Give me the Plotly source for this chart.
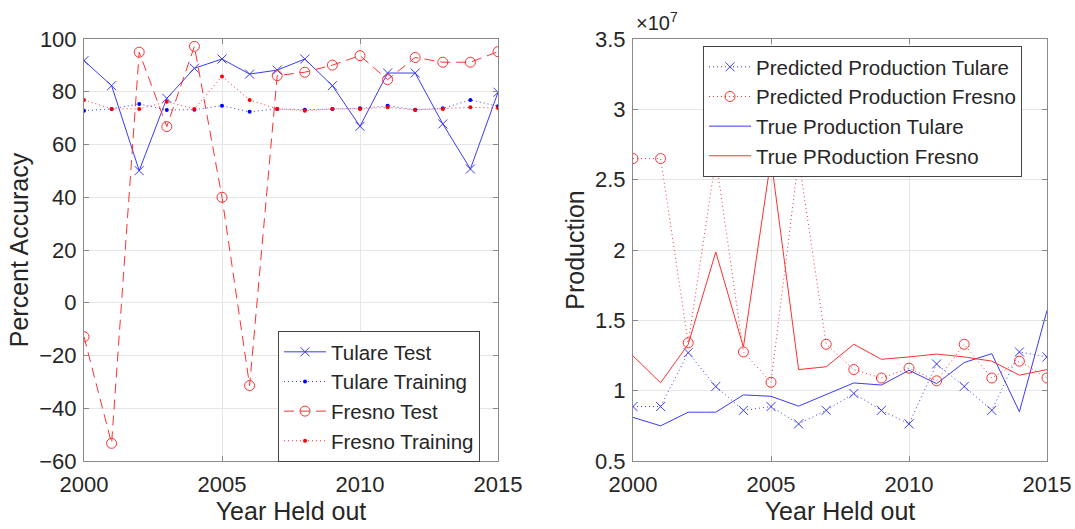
import plotly.graph_objects as go

years = list(range(2000, 2016))

# Left panel: percent accuracy
tulare_test = [91.8, 82.3, 50.1, 77.5, 88.9, 92.4, 86.7, 88.2, 92.4, 82.3, 66.9, 87.1, 87.1, 67.8, 50.7, 79.8]
tulare_train = [72.8, 73.5, 75.4, 73.1, 73.2, 74.7, 72.4, 73.5, 73.2, 73.5, 73.7, 74.7, 73.2, 73.7, 76.9, 74.5]
fresno_test = [-12.9, -53.3, 95.0, 66.8, 97.2, 40.0, -31.4, 86.1, 87.4, 90.1, 93.7, 84.6, 93.0, 91.2, 91.2, 95.2]
fresno_train = [76.9, 73.5, 73.5, 76.2, 73.5, 85.8, 76.9, 73.5, 72.8, 73.5, 73.5, 74.1, 73.1, 73.5, 74.1, 73.8]

# Right panel: production (in units of 10^7)
pred_tulare = [0.887, 0.887, 1.27, 1.03, 0.86, 0.887, 0.764, 0.86, 0.98, 0.86, 0.764, 1.19, 1.03, 0.86, 1.275, 1.24]
pred_fresno = [2.65, 2.65, 1.34, 2.65, 1.275, 1.06, 2.65, 1.33, 1.15, 1.09, 1.16, 1.07, 1.33, 1.09, 1.21, 1.09]
true_tulare = [0.81, 0.75, 0.847, 0.847, 0.97, 0.96, 0.89, 0.97, 1.055, 1.04, 1.145, 1.05, 1.2, 1.263, 0.85, 1.57]
true_fresno = [1.247, 1.056, 1.33, 1.986, 1.31, 2.65, 1.15, 1.17, 1.33, 1.223, 1.24, 1.26, 1.24, 1.21, 1.11, 1.15]

left_yticks = [-60, -40, -20, 0, 20, 40, 60, 80, 100]
right_yticks = [0.5, 1, 1.5, 2, 2.5, 3, 3.5]
xticks = [2000, 2005, 2010, 2015]

BLUE = "#3a3aff"
RED = "#ff3030"
TXT = "#262626"
FONT = "Liberation Sans, Arial, Helvetica, sans-serif"
DOT = "1px,3px"

W, H = 1075, 529


def px(x):
    return x / W


def py(y):
    return 1 - y / H


fig = go.Figure()

fig.add_trace(go.Scatter(x=years, y=tulare_test, name="Tulare Test", mode="lines+markers",
                         line=dict(color=BLUE, width=1),
                         marker=dict(symbol="x-thin-open", size=9, color=BLUE, line=dict(width=1, color=BLUE)),
                         xaxis="x", yaxis="y", legend="legend"))
fig.add_trace(go.Scatter(x=years, y=tulare_train, name="Tulare Training", mode="lines+markers",
                         line=dict(color=BLUE, width=1, dash=DOT),
                         marker=dict(symbol="circle", size=4, color="#0000ff"),
                         xaxis="x", yaxis="y", legend="legend"))
fig.add_trace(go.Scatter(x=years, y=fresno_test, name="Fresno Test", mode="lines+markers",
                         line=dict(color=RED, width=1, dash="10px,6px"),
                         marker=dict(symbol="circle-open", size=10, color=RED, line=dict(width=1, color=RED)),
                         xaxis="x", yaxis="y", legend="legend"))
fig.add_trace(go.Scatter(x=years, y=fresno_train, name="Fresno Training", mode="lines+markers",
                         line=dict(color=RED, width=1, dash=DOT),
                         marker=dict(symbol="circle", size=4, color="#ff0000"),
                         xaxis="x", yaxis="y", legend="legend"))

fig.add_trace(go.Scatter(x=years, y=pred_tulare, name="Predicted Production Tulare", mode="lines+markers",
                         line=dict(color=BLUE, width=1, dash=DOT),
                         marker=dict(symbol="x-thin-open", size=9, color=BLUE, line=dict(width=1, color=BLUE)),
                         xaxis="x2", yaxis="y2", legend="legend2"))
fig.add_trace(go.Scatter(x=years, y=pred_fresno, name="Predicted Production Fresno", mode="lines+markers",
                         line=dict(color=RED, width=1, dash=DOT),
                         marker=dict(symbol="circle-open", size=10, color=RED, line=dict(width=1, color=RED)),
                         xaxis="x2", yaxis="y2", legend="legend2"))
fig.add_trace(go.Scatter(x=years, y=true_tulare, name="True Production Tulare", mode="lines",
                         line=dict(color=BLUE, width=1),
                         xaxis="x2", yaxis="y2", legend="legend2"))
fig.add_trace(go.Scatter(x=years, y=true_fresno, name="True PRoduction Fresno", mode="lines",
                         line=dict(color=RED, width=1),
                         xaxis="x2", yaxis="y2", legend="legend2"))

ydom = [py(461), py(39)]

axis_common = dict(showline=True, linecolor="#8a8a8a", linewidth=1, mirror="allticks",
                   ticks="inside", ticklen=5, tickcolor="#8a8a8a", automargin=False,
                   showgrid=True, gridcolor="#e6e6e6", gridwidth=1, zeroline=False,
                   tickfont=dict(family=FONT, size=22, color=TXT),
                   title_font=dict(family=FONT, size=25, color=TXT))

legend_common = dict(xanchor="left", yanchor="top", bgcolor="white", bordercolor="#444444",
                     borderwidth=1, font=dict(family=FONT, size=20.5, color=TXT),
                     tracegroupgap=0, itemwidth=42)

fig.update_layout(
    width=W, height=H,
    margin=dict(l=0, r=0, t=0, b=0),
    paper_bgcolor="white", plot_bgcolor="white",
    font=dict(family=FONT, color=TXT),
    xaxis=dict(domain=[px(84), px(498)], range=[2000, 2015], tickvals=xticks,
               title=dict(text="Year Held out", standoff=6), anchor="y", ticklabelstandoff=4,
               **axis_common),
    yaxis=dict(domain=ydom, range=[-60, 100], tickvals=left_yticks,
               title=dict(text="Percent Accuracy", standoff=3), anchor="x", ticklabelstandoff=2,
               **axis_common),
    xaxis2=dict(domain=[px(633), px(1047)], range=[2000, 2015], tickvals=xticks,
                title=dict(text="Year Held out", standoff=6), anchor="y2", ticklabelstandoff=4,
                **axis_common),
    yaxis2=dict(domain=ydom, range=[0.5, 3.5], tickvals=right_yticks,
                title=dict(text="Production", standoff=3), anchor="x2", ticklabelstandoff=2,
                **axis_common),
    legend=dict(x=px(278), y=py(331), **legend_common),
    legend2=dict(x=px(703), y=py(46), **legend_common),
    annotations=[dict(text="×10<sup>7</sup>", x=px(634), y=py(36), xref="paper", yref="paper",
                      xanchor="left", yanchor="bottom", showarrow=False,
                      font=dict(family=FONT, size=20, color=TXT))],
)

fig.write_html("out.html", config={"displayModeBar": False},
               post_script="document.body.style.margin='0';document.body.style.overflow='hidden';")
